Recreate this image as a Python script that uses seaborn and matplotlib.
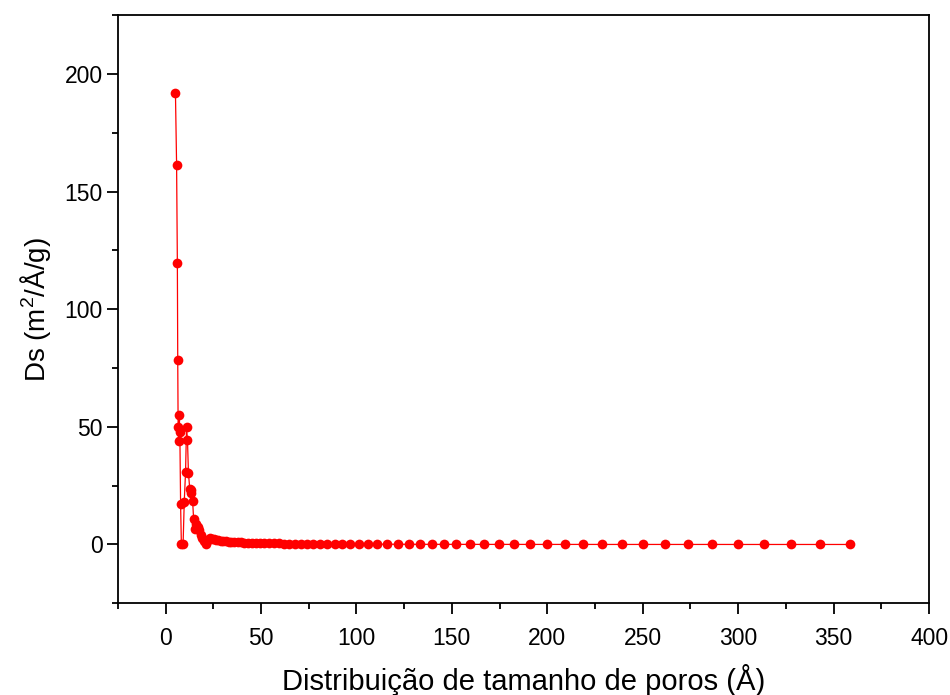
import matplotlib
matplotlib.use("Agg")
import matplotlib.pyplot as plt
from matplotlib.ticker import MultipleLocator
import numpy as np
import pandas as pd
import seaborn as sns

# Pore width (Å) and differential surface area Ds (m²/Å/g)
pore_width = [
    5.2, 5.8, 6.2, 6.4, 6.6, 6.9, 7.2, 7.5, 7.9, 8.3,
    9.2, 9.8, 10.5, 11.0, 11.5, 12.0, 12.7, 13.1, 13.6, 14.2,
    14.7, 15.4, 16.1, 16.9, 17.7, 18.5, 19.3, 20.2, 21.1, 22.1,
    23.1, 24.1, 25.2, 26.4, 27.6, 28.9, 30.2, 31.6, 33.0, 34.5,
    36.1, 37.8, 39.5, 41.3, 43.2, 45.2, 47.3, 49.4, 51.7, 54.1,
    56.6, 59.2, 61.9, 64.7, 67.7, 70.8, 74.0, 77.4, 81.0, 84.7,
    88.6, 92.6, 96.9, 101.4, 106.0, 110.9, 116.1, 121.7, 127.7, 133.3,
    139.5, 145.8, 152.4, 159.5, 167.0, 174.7, 182.6, 191.0, 199.6, 209.1,
    218.7, 228.8, 239.2, 250.2, 261.8, 273.9, 286.4, 299.7, 313.3, 327.7,
    342.8, 358.7,
]
ds_values = [
    192.0, 161.5, 119.5, 78.5, 50.0, 44.0, 55.0, 48.0, 17.0, 0.0,
    0.0, 18.0, 31.0, 50.0, 44.5, 30.5, 23.5, 22.0, 23.0, 18.5,
    11.0, 6.5, 8.8, 7.5, 6.3, 4.2, 2.8, 1.4, 0.2, 1.8,
    2.6, 2.5, 2.3, 2.0, 1.8, 1.6, 1.4, 1.3, 1.2, 1.1,
    1.0, 0.9, 0.85, 0.8, 0.75, 0.7, 0.65, 0.6, 0.55, 0.5,
    0.45, 0.42, 0.38, 0.35, 0.32, 0.3, 0.27, 0.25, 0.22, 0.2,
    0.18, 0.16, 0.14, 0.12, 0.11, 0.1, 0.09, 0.08, 0.07, 0.06,
    0.05, 0.05, 0.04, 0.04, 0.03, 0.03, 0.03, 0.02, 0.02, 0.02,
    0.02, 0.01, 0.01, 0.01, 0.01, 0.01, 0.01, 0.0, 0.0, 0.0,
    0.0, 0.0,
]

x_ticks = [0, 50, 100, 150, 200, 250, 300, 350, 400]
y_ticks = [0, 50, 100, 150, 200]

df = pd.DataFrame({"w": pore_width, "ds": ds_values})

sns.set_style("white")
plt.rcParams["font.family"] = ["Liberation Sans", "DejaVu Sans"]
plt.rcParams["mathtext.fontset"] = "custom"
plt.rcParams["mathtext.rm"] = "Liberation Sans"
plt.rcParams["mathtext.it"] = "Liberation Sans:italic"
plt.rcParams["text.color"] = "black"
plt.rcParams["axes.labelcolor"] = "black"

fig = plt.figure(figsize=(9.5, 6.95), dpi=100)
ax = fig.add_axes([0.124, 0.132, 0.854, 0.846])

sns.lineplot(data=df, x="w", y="ds", ax=ax, color="#ff0000", linewidth=0.9,
             marker="o", markersize=7, markeredgewidth=0, estimator=None,
             sort=False)

ax.set_xlim(-25, 400)
ax.set_ylim(-25, 225)
ax.set_xticks(x_ticks)
ax.set_yticks(y_ticks)
ax.xaxis.set_minor_locator(MultipleLocator(25))
ax.yaxis.set_minor_locator(MultipleLocator(25))

for side in ["left", "right", "top", "bottom"]:
    ax.spines[side].set_color("black")
    ax.spines[side].set_linewidth(1.3)

ax.tick_params(axis="both", which="major", direction="out", length=8, width=1.3,
               labelsize=16.5, color="black", labelcolor="black",
               bottom=True, left=True, top=False, right=False)
ax.tick_params(axis="both", which="minor", direction="out", length=4.5, width=1.3,
               color="black", bottom=True, left=True, top=False, right=False)
ax.tick_params(axis="x", which="major", pad=9)
ax.tick_params(axis="y", which="major", pad=3)

ax.set_xlabel("Distribuição de tamanho de poros (Å)", fontsize=21, labelpad=10)
ax.set_ylabel(r"Ds (m$^{2}$/Å/g)", fontsize=20, labelpad=8)
ax.grid(False)

fig.savefig("out.png", dpi=100)
